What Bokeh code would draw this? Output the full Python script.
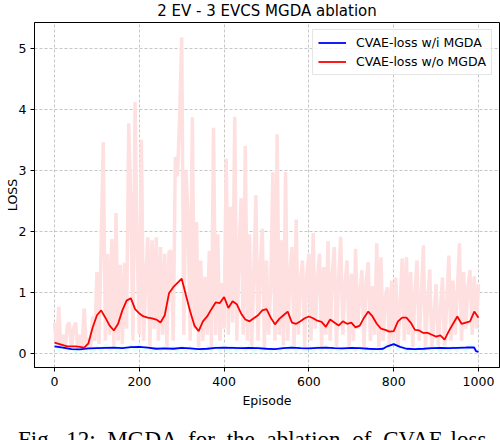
import numpy as np
from bokeh.plotting import figure
from bokeh.layouts import column
from bokeh.models import Range1d, FixedTicker, GlobalInlineStyleSheet, Div
from bokeh.embed import file_html
from bokeh.resources import INLINE

title_text = "2 EV - 3 EVCS MGDA ablation"
x_label = "Episode"
y_label = "LOSS"
series_names = ["CVAE-loss w/i MGDA", "CVAE-loss w/o MGDA"]
caption = "Fig. 12: MGDA for the ablation of CVAE-loss."
x_ticks = [0, 200, 400, 600, 800, 1000]
y_ticks = [0, 1, 2, 3, 4, 5]

# raw loss without MGDA, every 5 episodes
raw_wo_episodes = list(range(0, 1001, 5))
raw_wo = [
    0.5, 0.1, 0.76, 0.08, 0.3, 0.05, 0.45, 0.5, 0.06, 0.4,
    0.5, 0.05, 0.3, 0.1, 0.73, 0.05, 0.25, 0.1, 0.6, 0.2,
    1.33, 0.15, 1.82, 3.46, 0.2, 1.63, 0.3, 1.87, 0.1, 2.30,
    0.2, 1.45, 0.15, 1.48, 0.4, 3.77, 2.47, 0.2, 4.12, 1.68,
    0.3, 3.5, 0.2, 1.2, 1.9, 0.1, 1.85, 0.4, 1.9, 0.2,
    1.74, 0.3, 1.63, 0.1, 1.66, 1.68, 0.2, 3.22, 2.9, 3.88,
    5.18, 0.3, 3.0, 2.24, 0.2, 3.87, 0.4, 2.15, 0.1, 1.52,
    0.2, 1.25, 0.3, 1.68, 0.1, 3.7, 0.3, 1.95, 0.2, 1.15,
    0.4, 3.19, 0.3, 2.4, 0.5, 3.88, 0.2, 1.6, 2.54, 0.3,
    3.4, 0.2, 1.95, 0.1, 1.3, 2.59, 0.2, 1.4, 2.04, 0.1,
    1.52, 0.3, 1.1, 2.97, 0.2, 3.59, 0.3, 1.85, 0.1, 2.97,
    0.2, 1.3, 1.74, 0.1, 2.19, 0.3, 1.2, 1.52, 0.1, 1.3,
    1.63, 0.2, 1.97, 0.4, 1.2, 1.63, 0.1, 1.41, 0.3, 1.84,
    0.2, 1.3, 1.74, 0.1, 1.2, 1.91, 0.3, 1.1, 1.52, 0.1,
    1.3, 0.2, 1.71, 0.4, 1.0, 1.36, 0.1, 1.2, 1.49, 0.2,
    1.1, 0.3, 1.80, 0.1, 1.57, 0.2, 0.9, 1.08, 0.1, 1.19,
    0.2, 1.24, 0.1, 0.8, 1.55, 0.2, 1.57, 0.3, 1.33, 0.1,
    1.0, 1.52, 0.2, 0.9, 1.77, 0.1, 0.8, 1.37, 0.05, 0.6,
    1.13, 0.1, 0.7, 1.24, 0.05, 0.8, 1.6, 0.2, 1.19, 0.3,
    1.0, 1.8, 0.2, 1.33, 0.4, 1.1, 1.36, 0.3, 1.26, 0.4,
    1.13,
]

# smoothed loss without MGDA, every 10 episodes
smooth_wo_episodes = list(range(0, 1001, 10))
smooth_wo = [
    0.17, 0.15, 0.13, 0.11, 0.11, 0.11, 0.10, 0.09, 0.16, 0.42,
    0.62, 0.70, 0.58, 0.45, 0.37, 0.48, 0.70, 0.86, 0.90, 0.72,
    0.65, 0.60, 0.58, 0.57, 0.55, 0.50, 0.62, 0.98, 1.08, 1.15,
    1.22, 0.95, 0.68, 0.45, 0.36, 0.52, 0.60, 0.72, 0.83, 0.82,
    0.92, 0.74, 0.85, 0.80, 0.65, 0.55, 0.52, 0.57, 0.62, 0.70,
    0.72, 0.58, 0.47, 0.56, 0.62, 0.68, 0.50, 0.48, 0.52, 0.57,
    0.60, 0.57, 0.53, 0.51, 0.43, 0.55, 0.50, 0.45, 0.52, 0.48,
    0.50, 0.42, 0.45, 0.58, 0.68, 0.60, 0.48, 0.40, 0.38, 0.35,
    0.36, 0.52, 0.58, 0.58, 0.50, 0.38, 0.37, 0.33, 0.33, 0.30,
    0.27, 0.29, 0.22, 0.36, 0.48, 0.60, 0.48, 0.50, 0.52, 0.68,
    0.58,
]

# raw loss with MGDA, every 10 episodes
raw_wi_episodes = list(range(0, 1001, 10))
raw_wi = [
    0.15, 0.02, 0.12, 0.03, 0.10, 0.01, 0.08, 0.02, 0.10, 0.01,
    0.12, 0.02, 0.14, 0.03, 0.11, 0.01, 0.12, 0.02, 0.13, 0.03,
    0.15, 0.02, 0.12, 0.01, 0.10, 0.02, 0.12, 0.03, 0.10, 0.01,
    0.12, 0.02, 0.11, 0.01, 0.09, 0.02, 0.12, 0.03, 0.13, 0.02,
    0.14, 0.01, 0.12, 0.02, 0.11, 0.03, 0.13, 0.01, 0.12, 0.02,
    0.10, 0.01, 0.09, 0.02, 0.12, 0.03, 0.13, 0.01, 0.12, 0.02,
    0.11, 0.01, 0.12, 0.03, 0.13, 0.02, 0.11, 0.01, 0.10, 0.02,
    0.12, 0.03, 0.11, 0.01, 0.10, 0.02, 0.09, 0.01, 0.15, 0.05,
    0.20, 0.04, 0.13, 0.01, 0.10, 0.02, 0.11, 0.01, 0.12, 0.02,
    0.13, 0.01, 0.12, 0.02, 0.11, 0.03, 0.12, 0.02, 0.14, 0.05,
    0.03,
]

# smoothed loss with MGDA
smooth_wi_episodes = [0, 20, 40, 60, 80, 100, 120, 140, 160, 180, 200, 220, 240, 260, 280,
                      300, 320, 340, 360, 380, 400, 420, 440, 460, 480, 500, 520, 540, 560,
                      580, 600, 620, 640, 660, 680, 700, 720, 740, 760, 775, 785, 800, 815,
                      830, 850, 870, 890, 910, 930, 950, 970, 990, 994, 1000]
smooth_wi = [0.11, 0.09, 0.065, 0.06, 0.075, 0.08, 0.085, 0.09, 0.08, 0.095, 0.10, 0.09,
             0.07, 0.075, 0.07, 0.085, 0.075, 0.065, 0.07, 0.085, 0.09, 0.085, 0.08, 0.085,
             0.08, 0.07, 0.065, 0.08, 0.09, 0.08, 0.075, 0.085, 0.09, 0.08, 0.075, 0.085,
             0.08, 0.07, 0.065, 0.07, 0.11, 0.145, 0.10, 0.07, 0.065, 0.07, 0.08, 0.085,
             0.08, 0.085, 0.09, 0.09, 0.03, 0.02]

W, H = 500, 427
fig = figure(width=W, height=H, output_backend="svg", toolbar_location=None,
             x_range=Range1d(-47.2, 1049.5), y_range=Range1d(-0.238, 5.427),
             min_border_left=34, min_border_right=1, min_border_top=22, min_border_bottom=H - 367)

fig.title.text = title_text
fig.title.align = "center"
fig.title.vertical_align = "top"
fig.title.text_font = "DejaVu Sans"
fig.title.text_font_size = "15px"
fig.title.text_font_style = "normal"
fig.title.text_color = "black"
fig.title.standoff = 2

fig.outline_line_color = "black"
fig.outline_line_width = 1
fig.outline_line_alpha = 1
fig.background_fill_color = "white"
fig.border_fill_color = "white"

for ax in (fig.xaxis[0], fig.yaxis[0]):
    ax.major_label_text_font = "DejaVu Sans"
    ax.major_label_text_font_size = "12.5px"
    ax.major_label_text_color = "black"
    ax.axis_label_text_font = "DejaVu Sans"
    ax.axis_label_text_font_size = "12.5px"
    ax.axis_label_text_font_style = "normal"
    ax.axis_label_text_color = "black"
    ax.axis_line_color = "black"
    ax.major_tick_line_color = "black"
    ax.major_tick_out = 4
    ax.major_tick_in = 0
    ax.minor_tick_line_color = None

fig.xaxis.axis_label = x_label
fig.yaxis.axis_label = y_label
fig.xaxis.ticker = FixedTicker(ticks=x_ticks)
fig.yaxis.ticker = FixedTicker(ticks=y_ticks)
fig.xaxis.major_label_standoff = 5
fig.yaxis.major_label_standoff = 4
fig.xaxis.axis_label_standoff = 4
fig.yaxis.axis_label_standoff = -4

fig.grid.grid_line_color = "#b0b0b0"
fig.grid.grid_line_dash = "3 2"
fig.grid.grid_line_width = 0.8
fig.grid.grid_line_alpha = 0.9

fig.line(raw_wo_episodes, raw_wo, color="#ffe0e0", line_width=3.5)
fig.line(raw_wi_episodes, raw_wi, color="#e0ffff", line_width=2.5)
fig.line(smooth_wi_episodes, smooth_wi, color="blue", line_width=1.8, legend_label=series_names[0])
fig.line(smooth_wo_episodes, smooth_wo, color="red", line_width=1.8, legend_label=series_names[1])

lg = fig.legend[0]
lg.location = "top_right"
lg.margin = 7
lg.padding = 5
lg.spacing = 4
lg.glyph_width = 28
lg.glyph_height = 15
lg.label_height = 15
lg.label_standoff = 10
lg.label_text_font = "DejaVu Sans"
lg.label_text_font_size = "12.5px"
lg.label_text_color = "black"
lg.border_line_color = "#cccccc"
lg.border_line_width = 1
lg.background_fill_alpha = 0.8

cap = Div(text=caption, width=W, height=30,
          styles={"font-family": "'Liberation Serif', serif", "font-size": "23px",
                  "line-height": "25px", "white-space": "nowrap", "color": "black",
                  "word-spacing": "6px", "padding-left": "18px", "margin": "0",
                  "overflow": "hidden"})

p = column(fig, cap, spacing=0)
p.stylesheets = [GlobalInlineStyleSheet(css="html, body { margin: 0 !important; padding: 0 !important; overflow: hidden; }")]

open("out.html", "w").write(file_html(p, INLINE))
